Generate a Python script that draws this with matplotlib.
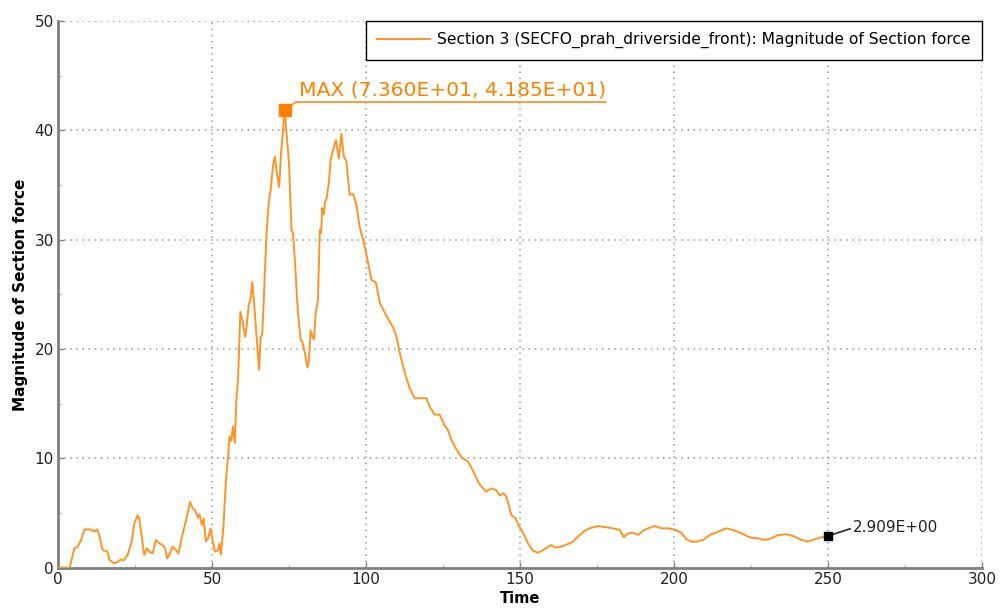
import matplotlib
matplotlib.use("Agg")
import matplotlib.pyplot as plt
from matplotlib.ticker import MultipleLocator

# Section force history (time, magnitude)
time = [0, 3.8, 5.3, 6.4, 7.5, 8.6, 10.2, 11.3, 11.8, 12.7, 13.4, 14.5, 16.1, 16.7, 18.3,
        19.4, 20.5, 21.3, 22.6, 23.9, 24.8, 25.9, 26.4, 27.2, 28.0, 28.9, 29.7, 30.7,
        31.8, 32.9, 34.0, 34.8, 35.4, 36.1, 37.2, 38.3, 39.1, 40.0, 41.6, 42.9, 43.8,
        44.5, 45.4, 45.9, 46.7, 47.3, 48.0, 48.8, 49.5, 50.2, 51.0, 51.9, 52.4, 52.9,
        53.7, 54.1, 54.6, 55.2, 55.7, 56.3, 56.8, 57.4, 57.9, 58.5, 59.2, 59.9, 60.8,
        61.2, 62.0, 62.4, 63.1, 63.6, 64.4, 65.3, 65.8, 66.3, 66.8, 67.7, 68.5, 69.1,
        69.8, 70.4, 71.1, 71.8, 72.5, 73.6, 74.2, 75.0, 75.8, 76.3, 76.9, 77.9, 78.8,
        79.3, 80.1, 81.0, 81.5, 82.0, 82.6, 83.1, 83.7, 84.4, 85.0, 85.4, 85.8, 86.3,
        86.7, 87.3, 88.0, 88.5, 89.3, 90.2, 90.6, 91.2, 92.0, 92.8, 93.6, 94.7, 95.8,
        96.9, 97.9, 99.0, 100.1, 101.8, 103.2, 104.5, 106.1, 107.7, 108.8, 109.9,
        111.0, 112.6, 114.2, 115.8, 119.6, 120.7, 122.3, 123.9, 125.5, 126.6, 127.7,
        129.4, 131.0, 133.1, 134.7, 136.7, 138.9, 140.7, 142.3, 143.4, 144.7, 145.6,
        147.2, 148.6, 149.7, 150.8, 152.6, 154.2, 155.8, 157.5, 159.1, 160.2, 161.3,
        163.4, 165.6, 167.2, 168.8, 171.0, 172.6, 175.3, 178.0, 180.2, 182.4, 183.7,
        185.1, 186.7, 188.3, 189.9, 191.6, 193.7, 195.9, 198.0, 200.1, 202.4, 204.0,
        205.6, 207.3, 209.4, 211.6, 214.3, 217.0, 219.7, 221.9, 224.6, 227.3, 229.4,
        231.6, 233.8, 236.5, 238.6, 241.4, 243.5, 245.7, 247.9, 250.0]
force = [0, 0, 1.77, 1.92, 2.53, 3.5, 3.5, 3.4, 3.3, 3.5, 2.98, 1.61, 1.46, 0.7, 0.4,
         0.55, 0.76, 0.64, 1.16, 2.4, 4.06, 4.8, 4.5, 2.83, 1.16, 1.77, 1.46, 1.31,
         2.53, 2.23, 2.07, 1.77, 0.85, 1.16, 1.92, 1.61, 1.31, 2.53, 4.36, 6.0, 5.4,
         5.25, 4.6, 4.9, 3.9, 4.5, 2.4, 2.7, 3.6, 2.5, 1.46, 1.6, 2.2, 1.2,
         3.7, 5.9, 8.3, 10.1, 12.0, 11.6, 12.9, 11.4, 15.3, 17.5, 23.4, 22.6, 21.1,
         22.0, 24.2, 24.3, 26.1, 24.5, 21.4, 18.1, 21.1, 21.3, 24.5, 30.6, 33.6, 34.7,
         36.7, 37.6, 36.0, 34.8, 38.2, 41.85, 39.7, 37.0, 30.9, 30.6, 28.1, 23.3, 20.8,
         20.7, 19.7, 18.3, 19.0, 21.7, 21.1, 20.9, 23.4, 24.5, 30.9, 30.6, 32.9, 32.3,
         33.4, 33.9, 35.4, 37.3, 38.2, 39.1, 38.5, 37.4, 39.7, 37.6, 37.2, 34.1, 34.2,
         33.2, 31.2, 30.1, 28.7, 26.3, 26.1, 24.2, 23.3, 22.5, 22.0, 21.1,
         19.6, 17.8, 16.4, 15.5, 15.5, 14.7, 14.0, 14.0, 13.0, 12.6, 11.7,
         10.8, 10.1, 9.7, 8.9, 7.7, 6.95, 7.25, 7.1, 6.6, 6.8, 6.5,
         4.8, 4.5, 3.75, 3.3, 2.23, 1.56, 1.37, 1.6, 1.92, 2.07, 1.85,
         1.92, 2.17, 2.38, 2.83, 3.38, 3.6, 3.81, 3.69, 3.6, 3.45, 2.78,
         3.14, 3.2, 3.0, 3.38, 3.6, 3.81, 3.6, 3.6, 3.5, 3.2, 2.6,
         2.38, 2.38, 2.53, 2.99, 3.3, 3.6, 3.4, 3.14, 2.78, 2.68, 2.53,
         2.68, 2.99, 3.05, 2.9, 2.53, 2.38, 2.6, 2.78, 2.909]

series_label = "Section 3 (SECFO_prah_driverside_front): Magnitude of Section force"
x_label = "Time"
y_label = "Magnitude of Section force"

LINE = "#ff9326"
TEXT_ORANGE = "#ff8000"
SPINE = "#808080"

fig = plt.figure(figsize=(10, 6.08), dpi=100)
ax = fig.add_axes([0.058, 0.0663, 0.924, 0.8992])

ax.plot(time, force, color=LINE, lw=1.4, label=series_label, zorder=3)

ax.set_xlim(0, 300)
ax.set_ylim(0, 50)
ax.xaxis.set_major_locator(MultipleLocator(50))
ax.xaxis.set_minor_locator(MultipleLocator(25))
ax.yaxis.set_major_locator(MultipleLocator(10))
ax.yaxis.set_minor_locator(MultipleLocator(5))

for side in ("top", "right"):
    ax.spines[side].set_visible(False)
for side in ("left", "bottom"):
    ax.spines[side].set_color(SPINE)
    ax.spines[side].set_linewidth(2)

ax.tick_params(which="major", direction="in", length=4, width=1, color=SPINE,
               labelsize=11, labelcolor="#222222", pad=3)
ax.tick_params(which="minor", direction="in", length=2.5, width=1, color="#aaaaaa")

ax.grid(which="major", color="#9a9a9a", linestyle=(0, (1, 3)), lw=1.1, zorder=0)

ax.set_xlabel(x_label, fontsize=10.5, fontweight="bold", labelpad=3)
ax.set_ylabel(y_label, fontsize=11, fontweight="bold", labelpad=5)

leg = ax.legend(loc="upper right", borderaxespad=0, fontsize=11.2, fancybox=False,
                framealpha=1, edgecolor="black", handlelength=3.4, borderpad=0.72,
                handletextpad=0.45)
leg.get_frame().set_linewidth(1)

# Maximum marker with leader line and label
imax = max(range(len(force)), key=lambda i: force[i])
tmax, fmax = time[imax], force[imax]
ax.plot([tmax], [fmax], marker="s", ms=8, color=TEXT_ORANGE, zorder=5, clip_on=False)
p0 = ax.transData.transform((tmax, fmax))
inv = ax.transData.inverted()
pa = inv.transform((p0[0] + 11, p0[1] + 8))
pb = inv.transform((p0[0] + 321, p0[1] + 8))
ax.plot([tmax, pa[0], pb[0]], [fmax, pa[1], pb[1]], color=LINE, lw=1.3, zorder=4,
        clip_on=False)
ax.annotate(f"MAX ({tmax:.3E}, {fmax:.3E})", xy=(tmax, fmax), xytext=(14, 11),
            textcoords="offset pixels", color=TEXT_ORANGE, fontsize=14.6,
            va="bottom", ha="left")

# End-value marker
tend, fend = time[-1], force[-1]
ax.plot([tend], [fend], marker="s", ms=6, color="black", zorder=5, clip_on=False)
ax.annotate(f"{fend:.3E}", xy=(tend, fend), xytext=(25, 8), textcoords="offset pixels",
            fontsize=11, color="#222222", va="center", ha="left",
            arrowprops=dict(arrowstyle="-", color="#333333", lw=1.3,
                            shrinkA=0, shrinkB=0, relpos=(0, 0.5)))

fig.savefig("out.png", dpi=100)
